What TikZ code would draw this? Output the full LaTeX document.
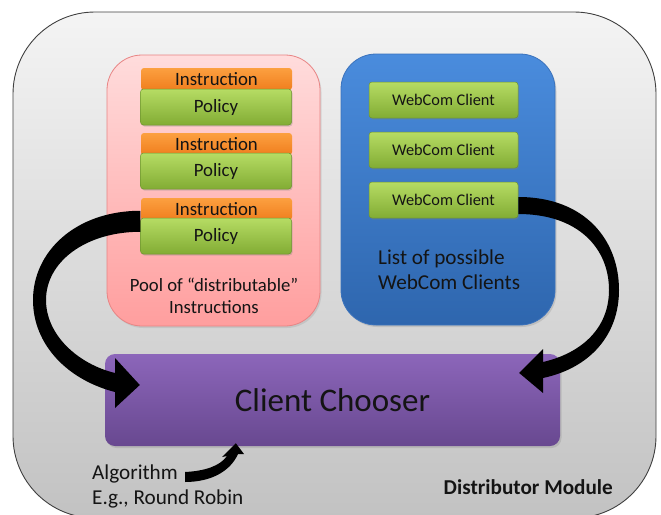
\documentclass[tikz,border=0pt]{standalone}
\usepackage{fontspec}
\setmainfont{Carlito}
\usetikzlibrary{shadows,calc}
\definecolor{outerT}{HTML}{F4F4F4}
\definecolor{outerB}{HTML}{C2C2C2}
\definecolor{pinkT}{HTML}{FFDCDC}
\definecolor{pinkB}{HTML}{FF9E9E}
\definecolor{pinkD}{HTML}{E88484}
\definecolor{blueT}{HTML}{4A8CDD}
\definecolor{blueB}{HTML}{2E66AE}
\definecolor{blueD}{HTML}{3A72BC}
\definecolor{orT}{HTML}{FCA040}
\definecolor{orB}{HTML}{F07E1E}
\definecolor{grT}{HTML}{B6DC64}
\definecolor{grB}{HTML}{82AC34}
\definecolor{grD}{HTML}{6E9430}
\definecolor{puT}{HTML}{8C66BA}
\definecolor{puB}{HTML}{684890}
\definecolor{txt}{HTML}{141414}
\tikzset{
  outerbox/.style={draw=black!75, line width=0.9pt, rounded corners=82pt, top color=outerT, bottom color=outerB},
  poolbox/.style={draw=pinkD, line width=0.8pt, rounded corners=35pt, top color=pinkT, bottom color=pinkB,
     drop shadow={shadow xshift=1.5pt, shadow yshift=-2pt, opacity=0.2}},
  listbox/.style={draw=blueD, line width=0.8pt, rounded corners=35pt, top color=blueT, bottom color=blueB,
     drop shadow={shadow xshift=1.5pt, shadow yshift=-2pt, opacity=0.25}},
  instbox/.style={rounded corners=3pt, top color=orT, bottom color=orB, minimum width=151pt, minimum height=22pt,
     inner sep=0pt, font=\fontsize{18.8}{19}\selectfont, text=txt},
  greenbox/.style={draw=grD, line width=0.5pt, rounded corners=3pt, top color=grT, bottom color=grB, inner sep=0pt,
     drop shadow={shadow xshift=1pt, shadow yshift=-1.5pt, opacity=0.3}, text=txt},
  polbox/.style={greenbox, minimum width=151pt, minimum height=36pt, font=\fontsize{18.8}{19}\selectfont},
  wcbox/.style={greenbox, minimum width=149pt, minimum height=36pt, font=\fontsize{16.3}{17}\selectfont},
  choosebox/.style={rounded corners=10pt, top color=puT, bottom color=puB, minimum width=455pt, minimum height=92pt,
     inner sep=0pt, font=\fontsize{33}{35}\selectfont, text=txt,
     drop shadow={shadow xshift=1.5pt, shadow yshift=-2pt, opacity=0.25}},
  lbl/.style={inner sep=0pt, text=txt, font=\fontsize{18.7}{22.5}\selectfont},
  bigarrow/.style={fill=black},
}
\begin{document}
\begin{tikzpicture}[x=1pt,y=-1pt]
\useasboundingbox (0,0) rectangle (661,514);
\clip (0,0) rectangle (661,514);
\fill[white] (0,0) rectangle (661,514);
\node[outerbox, minimum width=643pt, minimum height=506pt] (module) at (334.5,265) {};
\node[poolbox, minimum width=213pt, minimum height=271pt] (pool) at (213.5,190.5) {};
\node[listbox, minimum width=214pt, minimum height=271pt] (list) at (448,189.5) {};
% instructions and policies
\node[instbox] (inst1) at (216.5,79) {Instruction};
\node[polbox] (pol1) at (216,107) {Policy};
\node[instbox] (inst2) at (216.5,144) {Instruction};
\node[polbox] (pol2) at (216,171) {Policy};
\node[instbox] (inst3) at (216.5,209) {Instruction};
\node[polbox] (pol3) at (216,236) {Policy};
\node[lbl, align=center] (poollbl) at (214,296) {Pool of “distributable”\\Instructions};
% webcom clients
\node[wcbox] (wc1) at (443.5,100) {WebCom Client};
\node[wcbox] (wc2) at (443.5,150) {WebCom Client};
\node[wcbox] (wc3) at (443.5,200) {WebCom Client};
\node[lbl, align=left, anchor=west, font=\fontsize{21.2}{25}\selectfont] (listlbl) at (378,270) {List of possible\\WebCom Clients};
% chooser
\node[choosebox] (chooser) at (332.5,400) {Client Chooser};
% labels
\node[lbl, align=left, anchor=west, font=\fontsize{21.2}{25}\selectfont] (algo) at (92,486) {Algorithm\\E.g., Round Robin};
\node[lbl, anchor=east, font=\bfseries\fontsize{21.2}{22}\selectfont] (dist) at (613,487) {Distributor Module};
% left curved arrow: policy 3 -> chooser
\fill[bigarrow] ($(pol3.north west)+(0,-7)$) .. controls (75,211) and (33,252) .. (33,300)
  .. controls (33,345) and (68,380) .. (115,392) -- (115,408) -- ($(chooser.west)+(35,-15)$) -- (115,358) -- (115,373)
  .. controls (78,364) and (46,335) .. (46,300) .. controls (46,262) and (85,232) .. ($(pol3.north west)+(0,14)$) -- cycle;
% right curved arrow: webcom client 3 -> chooser
\fill[bigarrow] ($(wc3.east)+(0,-3)$) .. controls (585,197) and (619,240) .. (619,290)
  .. controls (619,335) and (590,368) .. (543,378) -- (543,393) -- ($(chooser.east)+(-41,-27)$) -- (543,349) -- (543,362)
  .. controls (582,353) and (609,328) .. (609,290) .. controls (609,248) and (578,214) .. ($(wc3.east)+(0,14)$) -- cycle;
% small arrow: algorithm -> chooser
\fill[bigarrow] (185,472) .. controls (205,471) and (220,466) .. (227,456) -- (222,457)
  -- ($(chooser.south west)+(131,-3)$) -- (244,454) -- (238,454) .. controls (230,472) and (210,482) .. (185,482) -- cycle;
\end{tikzpicture}
\end{document}
